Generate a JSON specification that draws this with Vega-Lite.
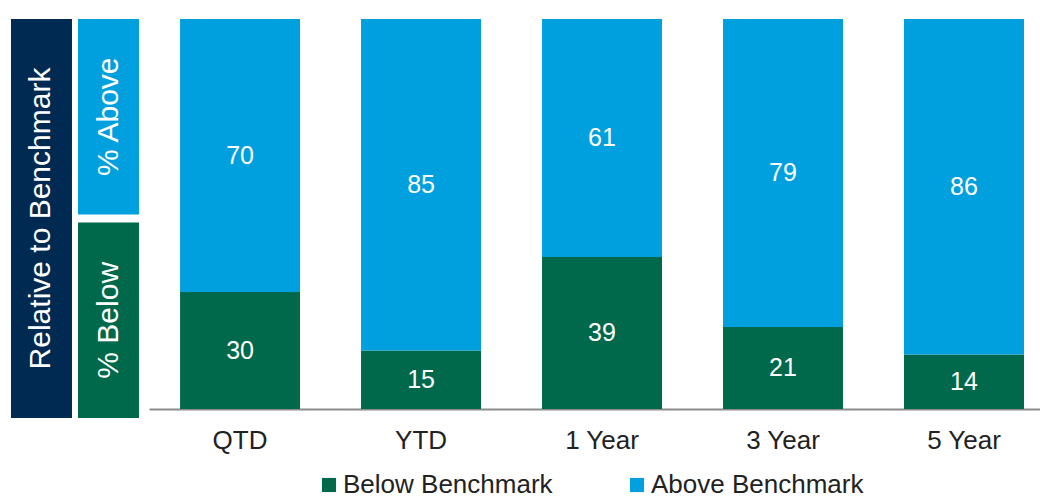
{
  "$schema": "https://vega.github.io/schema/vega-lite/v6.json",
  "padding": {"left": 11, "top": 19, "right": 0, "bottom": 0},
  "spacing": 10,
  "config": {"view": {"stroke": null}, "font": "Liberation Sans"},
  "hconcat": [
    {
      "width": 128,
      "height": 399,
      "data": {"values": [
        {"col": "outer", "part": "all", "label": "Relative to Benchmark"},
        {"col": "inner", "part": "Above", "label": "% Above"},
        {"col": "inner", "part": "Below", "label": "% Below"}
      ]},
      "encoding": {
        "x": {"field": "col", "type": "nominal", "sort": ["outer", "inner"], "scale": {"domain": ["outer", "inner"], "paddingInner": 0.09, "paddingOuter": 0}, "axis": null}
      },
      "layer": [
        {"transform": [{"filter": "datum.col === 'outer'"}], "mark": {"type": "rect", "color": "#002A52"}, "encoding": {}},
        {"transform": [{"filter": "datum.part === 'Above'"}], "mark": {"type": "rect", "color": "#00A0DF"},
         "encoding": {"y": {"field": "part", "type": "nominal", "scale": {"domain": ["Above", "Below"], "paddingInner": 0.04, "paddingOuter": 0}, "axis": null}}},
        {"transform": [{"filter": "datum.part === 'Below'"}], "mark": {"type": "rect", "color": "#00694B"},
         "encoding": {"y": {"field": "part", "type": "nominal", "axis": null}}},
        {"transform": [{"filter": "datum.col === 'outer'"}], "mark": {"type": "text", "angle": 270, "color": "#FFFFFF", "fontSize": 30, "align": "center", "baseline": "middle"},
         "encoding": {"text": {"field": "label"}}},
        {"transform": [{"filter": "datum.col === 'inner'"}], "mark": {"type": "text", "angle": 270, "color": "#FFFFFF", "fontSize": 30, "align": "center", "baseline": "middle"},
         "encoding": {"y": {"field": "part", "type": "nominal", "axis": null}, "text": {"field": "label"}}}
      ]
    },
    {
      "width": 891,
      "height": 390,
      "data": {"values": [
        {"period": "QTD", "status": "Below Benchmark", "pct": 30},
        {"period": "QTD", "status": "Above Benchmark", "pct": 70},
        {"period": "YTD", "status": "Below Benchmark", "pct": 15},
        {"period": "YTD", "status": "Above Benchmark", "pct": 85},
        {"period": "1 Year", "status": "Below Benchmark", "pct": 39},
        {"period": "1 Year", "status": "Above Benchmark", "pct": 61},
        {"period": "3 Year", "status": "Below Benchmark", "pct": 21},
        {"period": "3 Year", "status": "Above Benchmark", "pct": 79},
        {"period": "5 Year", "status": "Below Benchmark", "pct": 14},
        {"period": "5 Year", "status": "Above Benchmark", "pct": 86}
      ]},
      "encoding": {
        "x": {"field": "period", "type": "nominal", "sort": ["QTD", "YTD", "1 Year", "3 Year", "5 Year"],
              "scale": {"paddingInner": 0.337, "paddingOuter": 0.13, "align": 0.66},
              "axis": {"title": null, "labelAngle": 0, "ticks": false, "domainColor": "#8C8C8C", "domainWidth": 2, "labelFontSize": 26, "labelColor": "#222222", "labelPadding": 18}}
      },
      "layer": [
        {
          "mark": {"type": "bar"},
          "encoding": {
            "y": {"field": "pct", "type": "quantitative", "stack": "zero", "scale": {"domain": [0, 100], "nice": false}, "axis": null},
            "color": {"field": "status", "type": "nominal",
                      "scale": {"domain": ["Below Benchmark", "Above Benchmark"], "range": ["#00694B", "#00A0DF"]},
                      "legend": {"title": null, "orient": "none", "legendX": 305, "legendY": 453, "direction": "horizontal", "columns": 2,
                                 "symbolType": "square", "symbolSize": 200, "symbolStrokeWidth": 0, "labelFontSize": 26, "labelColor": "#222222",
                                 "labelOffset": 1, "columnPadding": 71, "padding": 0, "labelLimit": 0}},
            "order": {"field": "status", "sort": "descending"}
          }
        },
        {
          "mark": {"type": "text", "color": "#FFFFFF", "fontSize": 25, "align": "center", "baseline": "middle"},
          "encoding": {
            "y": {"field": "pct", "type": "quantitative", "stack": "zero", "bandPosition": 0.5},
            "detail": {"field": "status"},
            "order": {"field": "status", "sort": "descending"},
            "text": {"field": "pct", "type": "quantitative"}
          }
        }
      ]
    }
  ]
}
